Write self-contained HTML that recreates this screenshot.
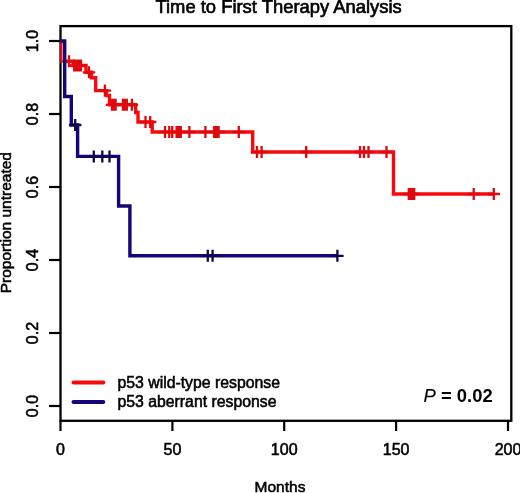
<!DOCTYPE html>
<html><head><meta charset="utf-8"><style>
html,body{margin:0;padding:0;background:#fff;}
body{width:520px;height:493px;overflow:hidden;}
svg{display:block;}
text{font-family:"Liberation Sans",sans-serif;fill:#000;stroke:#000;stroke-width:0.55px;}
svg{will-change:transform;}
.ax{font-size:15.5px;}
.tk{font-size:16px;}
.lg{font-size:15.8px;}
.pv{font-size:18.4px;}
.ti{font-size:18.4px;stroke-width:0.65px;}
</style></head><body>
<svg width="520" height="493" viewBox="0 0 520 493">
<rect x="60.5" y="26.1" width="450.8" height="394.7" fill="none" stroke="#000" stroke-width="2.3"/>
<line x1="49" y1="406.0" x2="60.5" y2="406.0" stroke="#000" stroke-width="2.2"/>
<text transform="translate(38.1,406.0) rotate(-90)" text-anchor="middle" class="tk">0.0</text>
<line x1="49" y1="333.0" x2="60.5" y2="333.0" stroke="#000" stroke-width="2.2"/>
<text transform="translate(38.1,333.0) rotate(-90)" text-anchor="middle" class="tk">0.2</text>
<line x1="49" y1="260.0" x2="60.5" y2="260.0" stroke="#000" stroke-width="2.2"/>
<text transform="translate(38.1,260.0) rotate(-90)" text-anchor="middle" class="tk">0.4</text>
<line x1="49" y1="187.0" x2="60.5" y2="187.0" stroke="#000" stroke-width="2.2"/>
<text transform="translate(38.1,187.0) rotate(-90)" text-anchor="middle" class="tk">0.6</text>
<line x1="49" y1="114.0" x2="60.5" y2="114.0" stroke="#000" stroke-width="2.2"/>
<text transform="translate(38.1,114.0) rotate(-90)" text-anchor="middle" class="tk">0.8</text>
<line x1="49" y1="41.0" x2="60.5" y2="41.0" stroke="#000" stroke-width="2.2"/>
<text transform="translate(38.1,41.0) rotate(-90)" text-anchor="middle" class="tk">1.0</text>
<line x1="60.5" y1="420.8" x2="60.5" y2="431" stroke="#000" stroke-width="2.2"/>
<text x="60.5" y="454.8" text-anchor="middle" class="tk">0</text>
<line x1="172.4" y1="420.8" x2="172.4" y2="431" stroke="#000" stroke-width="2.2"/>
<text x="172.4" y="454.8" text-anchor="middle" class="tk">50</text>
<line x1="284.2" y1="420.8" x2="284.2" y2="431" stroke="#000" stroke-width="2.2"/>
<text x="284.2" y="454.8" text-anchor="middle" class="tk">100</text>
<line x1="396.1" y1="420.8" x2="396.1" y2="431" stroke="#000" stroke-width="2.2"/>
<text x="396.1" y="454.8" text-anchor="middle" class="tk">150</text>
<line x1="508.0" y1="420.8" x2="508.0" y2="431" stroke="#000" stroke-width="2.2"/>
<text x="508.0" y="454.8" text-anchor="middle" class="tk">200</text>
<path d="M60.5,41.5H61.3V61.3H63" fill="none" stroke="#f80a0c" stroke-width="2.6" opacity="0.85"/>
<path d="M62.5,61.3 L73.0,61.3 L73.0,65.5 L86.0,65.5 L86.0,72.3 L91.5,72.3 L91.5,77.8 L95.7,77.8 L95.7,90.6 L106.5,90.6 L106.5,95.5 L109.5,95.5 L109.5,104.8 L135.7,104.8 L135.7,112.5 L138.0,112.5 L138.0,122.0 L152.2,122.0 L152.2,132.0 L252.7,132.0 L252.7,152.0 L393.5,152.0 L393.5,194.0 L493.8,194.0" fill="none" stroke="#f80a0c" stroke-width="3.4" stroke-linejoin="miter" stroke-linecap="butt"/>
<path d="M69.0,55.3V67.3M62.8,61.3H75.2M74.2,59.5V71.5M68.0,65.5H80.4M75.9,59.5V71.5M69.7,65.5H82.1M77.6,59.5V71.5M71.4,65.5H83.8M79.3,59.5V71.5M73.1,65.5H85.5M81.0,59.5V71.5M74.8,65.5H87.2M89.0,66.3V78.3M82.8,72.3H95.2M104.9,84.6V96.6M98.7,90.6H111.1M112.0,98.8V110.8M105.8,104.8H118.2M113.9,98.8V110.8M107.7,104.8H120.1M115.6,98.8V110.8M109.4,104.8H121.8M122.9,98.8V110.8M116.7,104.8H129.1M124.9,98.8V110.8M118.7,104.8H131.1M126.8,98.8V110.8M120.6,104.8H133.0M131.9,98.8V110.8M125.7,104.8H138.1M145.5,116.0V128.0M139.3,122.0H151.7M150.2,116.0V128.0M144.0,122.0H156.4M165.0,126.0V138.0M158.8,132.0H171.2M169.3,126.0V138.0M163.1,132.0H175.5M172.2,126.0V138.0M166.0,132.0H178.4M176.6,126.0V138.0M170.4,132.0H182.8M178.7,126.0V138.0M172.5,132.0H184.9M180.8,126.0V138.0M174.6,132.0H187.0M189.4,126.0V138.0M183.2,132.0H195.6M205.4,126.0V138.0M199.2,132.0H211.6M214.2,126.0V138.0M208.0,132.0H220.4M216.4,126.0V138.0M210.2,132.0H222.6M218.6,126.0V138.0M212.4,132.0H224.8M238.8,126.0V138.0M232.6,132.0H245.0M257.0,146.0V158.0M250.8,152.0H263.2M261.6,146.0V158.0M255.4,152.0H267.8M306.2,146.0V158.0M300.0,152.0H312.4M360.0,146.0V158.0M353.8,152.0H366.2M364.0,146.0V158.0M357.8,152.0H370.2M368.5,146.0V158.0M362.3,152.0H374.7M386.5,146.0V158.0M380.3,152.0H392.7M408.8,188.0V200.0M402.6,194.0H415.0M410.7,188.0V200.0M404.5,194.0H416.9M412.6,188.0V200.0M406.4,194.0H418.8M414.2,188.0V200.0M408.0,194.0H420.4M473.7,188.0V200.0M467.5,194.0H479.9M493.8,188.0V200.0M487.6,194.0H500.0" fill="none" stroke="#e00a0e" stroke-width="2.3"/>
<path d="M60.5,41.0 L64.7,41.0 L64.7,96.5 L71.3,96.5 L71.3,125.0 L77.6,125.0 L77.6,156.4 L118.6,156.4 L118.6,206.0 L129.9,206.0 L129.9,255.8 L337.4,255.8" fill="none" stroke="#150578" stroke-width="3.4" stroke-linejoin="miter" stroke-linecap="butt"/>
<path d="M75.2,119.0V131.0M69.0,125.0H81.4M93.8,150.4V162.4M87.6,156.4H100.0M102.3,150.4V162.4M96.1,156.4H108.5M109.5,150.4V162.4M103.3,156.4H115.7M207.8,249.8V261.8M201.6,255.8H214.0M212.6,249.8V261.8M206.4,255.8H218.8M337.4,249.8V261.8M331.2,255.8H343.6" fill="none" stroke="#10054f" stroke-width="2.3"/>
<line x1="73.5" y1="382.5" x2="103.3" y2="382.5" stroke="#f80a0c" stroke-width="4" stroke-linecap="round"/>
<line x1="73.5" y1="402" x2="103.3" y2="402" stroke="#150578" stroke-width="4" stroke-linecap="round"/>
<text x="117.5" y="388.2" class="lg">p53 wild-type response</text>
<text x="117.5" y="407.2" class="lg">p53 aberrant response</text>
<text x="423.6" y="401.8" class="pv"><tspan font-style="italic" style="stroke-width:0.15px">P</tspan><tspan font-weight="bold" style="stroke-width:0"> = 0.02</tspan></text>
<text x="278.6" y="13.1" text-anchor="middle" class="ti">Time to First Therapy Analysis</text>
<text x="280" y="492.2" text-anchor="middle" class="ax">Months</text>
<text transform="translate(11,222.7) rotate(-90)" text-anchor="middle" class="ax">Proportion untreated</text>
</svg>
</body></html>
